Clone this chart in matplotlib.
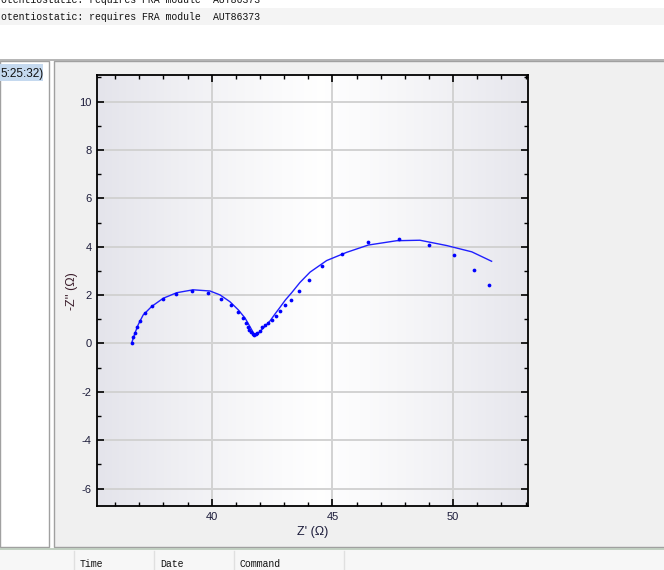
import numpy as np
import matplotlib
matplotlib.use("Agg")
import matplotlib.pyplot as plt
from matplotlib.patches import Rectangle
from matplotlib.lines import Line2D

plt.rcParams["axes.unicode_minus"] = False

# ---------------- data ----------------
z_real = [36.69, 36.75, 36.82, 36.89, 37.03, 37.24, 37.54, 37.97, 38.52, 39.18,
          39.84, 40.38, 40.78, 41.07, 41.30, 41.42, 41.49, 41.55, 41.62, 41.69,
          41.76, 41.82, 41.88, 41.98, 42.09, 42.22, 42.34, 42.49, 42.66, 42.84,
          43.03, 43.29, 43.61, 44.03, 44.55, 45.38, 46.47, 47.75, 49.00, 50.03,
          50.85, 51.48]
z_imag = [0.01, 0.25, 0.45, 0.69, 0.93, 1.26, 1.55, 1.84, 2.06, 2.15,
          2.10, 1.84, 1.59, 1.31, 1.05, 0.85, 0.70, 0.56, 0.47, 0.40,
          0.36, 0.38, 0.45, 0.53, 0.67, 0.78, 0.86, 0.98, 1.14, 1.34,
          1.58, 1.81, 2.19, 2.63, 3.21, 3.70, 4.20, 4.32, 4.08, 3.66,
          3.04, 2.42]

fit_real = [36.69, 36.82, 36.96, 37.16, 37.51, 37.99, 38.55, 39.23, 39.93, 40.34,
            40.75, 41.10, 41.38, 41.58, 41.72, 41.80, 41.93, 42.13, 42.41, 42.62,
            42.83, 43.05, 43.31, 43.65, 44.07, 44.76, 45.59, 46.48, 47.66, 48.62,
            49.73, 50.77, 51.59]
fit_imag = [0.04, 0.43, 0.79, 1.18, 1.53, 1.87, 2.10, 2.22, 2.17, 2.01,
            1.73, 1.39, 1.05, 0.70, 0.45, 0.34, 0.43, 0.63, 0.93, 1.22,
            1.50, 1.80, 2.10, 2.52, 2.95, 3.43, 3.77, 4.07, 4.25, 4.27,
            4.05, 3.79, 3.40]

x_ticks = [40, 45, 50]
y_ticks = [-6, -4, -2, 0, 2, 4, 6, 8, 10]
x_label = "Z' (Ω)"
y_label = "-Z'' (Ω)"
log_line = "otentiostatic: requires FRA module"
log_id = "AUT86373"
list_item = "5:25:32)"
headers = ["Time", "Date", "Command"]

# ---------------- figure ----------------
W, H = 664, 570
fig = plt.figure(figsize=(W / 100, H / 100), dpi=100)
fig.patch.set_facecolor("white")


def rect(x, y, w, h, **kw):
    """rectangle given in pixel coords from top-left"""
    fig.patches.append(Rectangle((x / W, 1 - (y + h) / H), w / W, h / H,
                                 transform=fig.transFigure, figure=fig,
                                 zorder=-2, **kw))


def hline(y, x0, x1, color, lw=1.0):
    fig.lines.append(Line2D([x0 / W, x1 / W], [1 - y / H, 1 - y / H],
                            transform=fig.transFigure, color=color, lw=lw,
                            zorder=-1))


def vline(x, y0, y1, color, lw=1.0):
    fig.lines.append(Line2D([x / W, x / W], [1 - y0 / H, 1 - y1 / H],
                            transform=fig.transFigure, color=color, lw=lw,
                            zorder=-1))


def ftext(x, y, s, **kw):
    fig.text(x / W, 1 - y / H, s, **kw)


mono = dict(family="Liberation Mono", fontsize=7.1, color="#111111", va="baseline")

# top log area
rect(0, 8, W, 17, facecolor="#f4f4f4", edgecolor="none")
ftext(1, 3, log_line, **mono)
ftext(213, 3, log_id, **mono)
ftext(1, 20, log_line, **mono)
ftext(213, 20, log_id, **mono)
hline(59.5, 0, W, "#a8a8a8", 1.2)

# left list panel
rect(0, 61, 49, 486, facecolor="white", edgecolor="#a0a0a0", lw=1.0)
rect(0, 64, 43, 17, facecolor="#c5d9ef", edgecolor="none")
ftext(0, 77, list_item, family="Liberation Sans", fontsize=8.5, color="#111111",
      va="baseline")

# main chart panel
rect(54, 61, W - 52, 486, facecolor="#f0f0f0", edgecolor="#a0a0a0", lw=1.0)

# bottom header area
hline(548.5, 0, W, "#b8c8b8", 1.2)
rect(0, 550, W, 20, facecolor="#f7f7f7", edgecolor="none")
for xc in [74, 154, 234, 344]:
    vline(xc, 551, 570, "#e0e0e0", 1.0)
for hx, h in zip([80, 160, 240], headers):
    ftext(hx, 567, h, **mono)

# ---------------- axes ----------------
ax = fig.add_axes([97.3 / W, 1 - 506 / H, (528.3 - 97.3) / W, (506 - 75.3) / H])
ax.set_zorder(5)
ax.set_xlim(35.26, 53.11)
ax.set_ylim(-6.72, 11.09)

# horizontal gradient background
t = np.linspace(0, 1, 400)
prof = 1 - np.clip(np.abs(t - 0.52) / 0.52, 0, 1) ** 1.2
edge = np.array([228, 228, 235]) / 255.0
white = np.array([1.0, 1.0, 1.0])
grad = edge[None, :] + (white - edge)[None, :] * prof[:, None] * 0.97
ax.imshow(grad[None, :, :], extent=[0, 1, 0, 1], transform=ax.transAxes,
          aspect="auto", zorder=0, interpolation="bilinear")
ax.set_facecolor("#e8e8ee")

ax.set_xticks(x_ticks)
ax.set_yticks(y_ticks)
ax.set_xticks(np.arange(36, 54, 1), minor=True)
ax.set_yticks(np.arange(-6, 12, 1), minor=True)
ax.grid(True, which="major", color="#d2d2d2", lw=1.4, zorder=1)
ax.set_axisbelow(True)

ax.tick_params(which="both", direction="in", top=True, right=True,
               color="black", labelsize=8, labelcolor="#1c1c3a", pad=4)
ax.tick_params(which="major", length=5, width=1.2)
ax.tick_params(which="minor", length=3, width=1.0)
for lab in ax.get_xticklabels() + ax.get_yticklabels():
    lab.set_family("Liberation Sans")
for s in ax.spines.values():
    s.set_linewidth(1.3)
    s.set_color("black")

ax.plot(fit_real, fit_imag, color="#1f1fff", lw=1.0, zorder=3)
ax.plot(z_real, z_imag, ls="none", marker="o", ms=2.7, mfc="#0000ff",
        mec="#0000ff", mew=0, zorder=4)

ax.set_xlabel(x_label, family="Liberation Sans", fontsize=9, color="#1c1c3a",
              labelpad=3)
ax.set_ylabel(y_label, family="Liberation Sans", fontsize=9, color="#3a1c2a",
              labelpad=1)

fig.savefig("out.png", dpi=100)
